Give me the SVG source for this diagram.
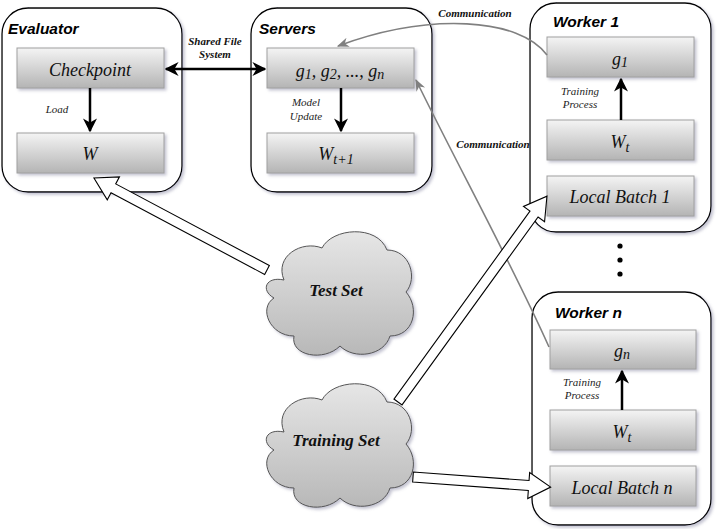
<svg xmlns="http://www.w3.org/2000/svg" width="718" height="529" viewBox="0 0 718 529">
<defs>
<linearGradient id="boxg" x1="0" y1="0" x2="0" y2="1">
<stop offset="0" stop-color="#f4f4f4"/>
<stop offset="1" stop-color="#b4b4b4"/>
</linearGradient>
<linearGradient id="cloudg" x1="0" y1="0" x2="0" y2="1">
<stop offset="0" stop-color="#e6e6e6"/>
<stop offset="1" stop-color="#b8b8b8"/>
</linearGradient>
<filter id="sh" x="-10%" y="-10%" width="125%" height="125%">
<feDropShadow dx="2" dy="2" stdDeviation="1.5" flood-color="#7a7a9a" flood-opacity="0.45"/>
</filter>
<marker id="ahb" viewBox="0 0 10 10" refX="9" refY="5" markerWidth="14" markerHeight="14" markerUnits="userSpaceOnUse" orient="auto-start-reverse">
<path d="M0,0 L10,5 L0,10 L3,5 Z" fill="#000"/>
</marker>
<marker id="ahg" viewBox="0 0 10 10" refX="9" refY="5" markerWidth="12" markerHeight="12" markerUnits="userSpaceOnUse" orient="auto">
<path d="M0,1 L10,5 L0,9 L3,5 Z" fill="#808080"/>
</marker>
<path id="cloud" d="M22,52 C12,28 40,12 60,20 C70,0 115,-4 125,22 C148,22 156,50 144,64 C158,80 152,108 128,108 C122,128 92,132 78,118 C62,134 28,128 32,108 C8,108 -4,80 12,70 C-2,62 4,48 22,52 Z"/>
</defs>
<style>
.cont{fill:#fff;stroke:#000;stroke-width:1.3;filter:url(#sh)}
.box{fill:url(#boxg);stroke:#a0a0a0;stroke-width:1;filter:url(#sh)}
.title{font-family:"Liberation Sans",Arial,sans-serif;font-weight:bold;font-style:italic;font-size:15.5px;fill:#000}
.bt{font-family:"Liberation Serif","Times New Roman",serif;font-style:italic;font-size:18px;fill:#111;text-anchor:middle}
.sub{font-size:14px}
.lbl{font-family:"Liberation Serif","Times New Roman",serif;font-style:italic;font-size:11px;fill:#222;text-anchor:middle}
.blbl{font-family:"Liberation Serif","Times New Roman",serif;font-style:italic;font-weight:bold;font-size:11px;fill:#111;text-anchor:middle}
.ct{font-family:"Liberation Serif","Times New Roman",serif;font-style:italic;font-weight:bold;font-size:17px;fill:#111;text-anchor:middle}
.cl{fill:url(#cloudg);stroke:#555;stroke-width:1;filter:url(#sh)}
.arr{stroke:#000;stroke-width:2.5;fill:none}
.garr{stroke:#808080;stroke-width:1.6;fill:none}
.blk{fill:#fff;stroke:#000;stroke-width:1.1;stroke-linejoin:miter}
</style>

<g id="evaluator">
<rect class="cont" x="2" y="8" width="180" height="184" rx="26"/>
<text class="title" x="8" y="34">Evaluator</text>
<rect class="box" x="17" y="48" width="147" height="40"/>
<text class="bt" x="90" y="76">Checkpoint</text>
<rect class="box" x="17" y="133" width="147" height="40"/>
<text class="bt" x="90" y="160">W</text>
<text class="lbl" x="57" y="113">Load</text>
</g>

<g id="servers">
<rect class="cont" x="251" y="8" width="181" height="184" rx="26"/>
<text class="title" x="259" y="34">Servers</text>
<rect class="box" x="267" y="48" width="147" height="40"/>
<text class="bt" x="340" y="77">g<tspan class="sub" dy="2">1</tspan><tspan dy="-2">, g</tspan><tspan class="sub" dy="2">2</tspan><tspan dy="-2">, ..., g</tspan><tspan class="sub" dy="2">n</tspan></text>
<rect class="box" x="267" y="133" width="147" height="40"/>
<text class="bt" x="336" y="160">W<tspan class="sub" dy="4">t+1</tspan></text>
<text class="lbl" x="306" y="106">Model</text>
<text class="lbl" x="306" y="120">Update</text>
</g>

<g id="worker1">
<rect class="cont" x="530" y="3" width="181" height="229" rx="26"/>
<text class="title" x="553" y="27">Worker 1</text>
<rect class="box" x="547" y="37" width="147" height="40"/>
<text class="bt" x="620" y="65">g<tspan class="sub" dy="2">1</tspan></text>
<rect class="box" x="547" y="120" width="147" height="40"/>
<text class="bt" x="620" y="148">W<tspan class="sub" dy="4">t</tspan></text>
<rect class="box" x="547" y="176" width="147" height="40"/>
<text class="bt" x="620" y="203">Local Batch 1</text>
<text class="lbl" x="580" y="95">Training</text>
<text class="lbl" x="580" y="108">Process</text>
</g>

<g id="dots">
<circle cx="620" cy="246" r="2.6" fill="#000"/>
<circle cx="620" cy="260" r="2.6" fill="#000"/>
<circle cx="620" cy="274" r="2.6" fill="#000"/>
</g>

<g id="workern">
<rect class="cont" x="532" y="292" width="179" height="233" rx="26"/>
<text class="title" x="555" y="318">Worker n</text>
<rect class="box" x="550" y="330" width="146" height="39"/>
<text class="bt" x="622" y="357">g<tspan class="sub" dy="2">n</tspan></text>
<rect class="box" x="550" y="410" width="146" height="40"/>
<text class="bt" x="622" y="438">W<tspan class="sub" dy="4">t</tspan></text>
<rect class="box" x="550" y="466" width="146" height="40"/>
<text class="bt" x="622" y="494">Local Batch n</text>
<text class="lbl" x="582" y="386">Training</text>
<text class="lbl" x="582" y="399">Process</text>
</g>

<g id="testset">
<use href="#cloud" class="cl" transform="translate(262,228)"/>
<text class="ct" x="336" y="296">Test Set</text>
</g>

<g id="trainingset">
<use href="#cloud" class="cl" transform="translate(262,380)"/>
<text class="ct" x="336" y="446">Training Set</text>
</g>

<g id="connectors">
<line class="arr" x1="90" y1="88" x2="90" y2="131" marker-end="url(#ahb)"/>
<line class="arr" x1="341" y1="88" x2="341" y2="131" marker-end="url(#ahb)"/>
<line class="arr" x1="621" y1="120" x2="621" y2="79" marker-end="url(#ahb)"/>
<line class="arr" x1="622" y1="410" x2="622" y2="371" marker-end="url(#ahb)"/>
<line class="arr" x1="166" y1="69" x2="265" y2="69" marker-start="url(#ahb)" marker-end="url(#ahb)"/>
<text class="blbl" x="215" y="45">Shared File</text>
<text class="blbl" x="215" y="58">System</text>
<path class="garr" d="M547,55 C520,18 430,12 338,46" marker-end="url(#ahg)"/>
<text class="blbl" x="475" y="17">Communication</text>
<path class="garr" d="M549,347 C510,260 460,170 416,80" marker-end="url(#ahg)"/>
<text class="blbl" x="493" y="148">Communication</text>
<g class="blk">
<polygon points="0,-5 -174,-5 -174,-13 -196,0 -174,13 -174,5 0,5" transform="translate(267,270) rotate(28)"/>
<polygon points="0,-5 -232,-5 -232,-13 -254,0 -232,13 -232,5 0,5" transform="translate(398,402) rotate(125.9)"/>
<polygon points="0,-5 -116,-5 -116,-13 -138,0 -116,13 -116,5 0,5" transform="translate(413,477) rotate(184.2)"/>
</g>
</g>
</svg>
